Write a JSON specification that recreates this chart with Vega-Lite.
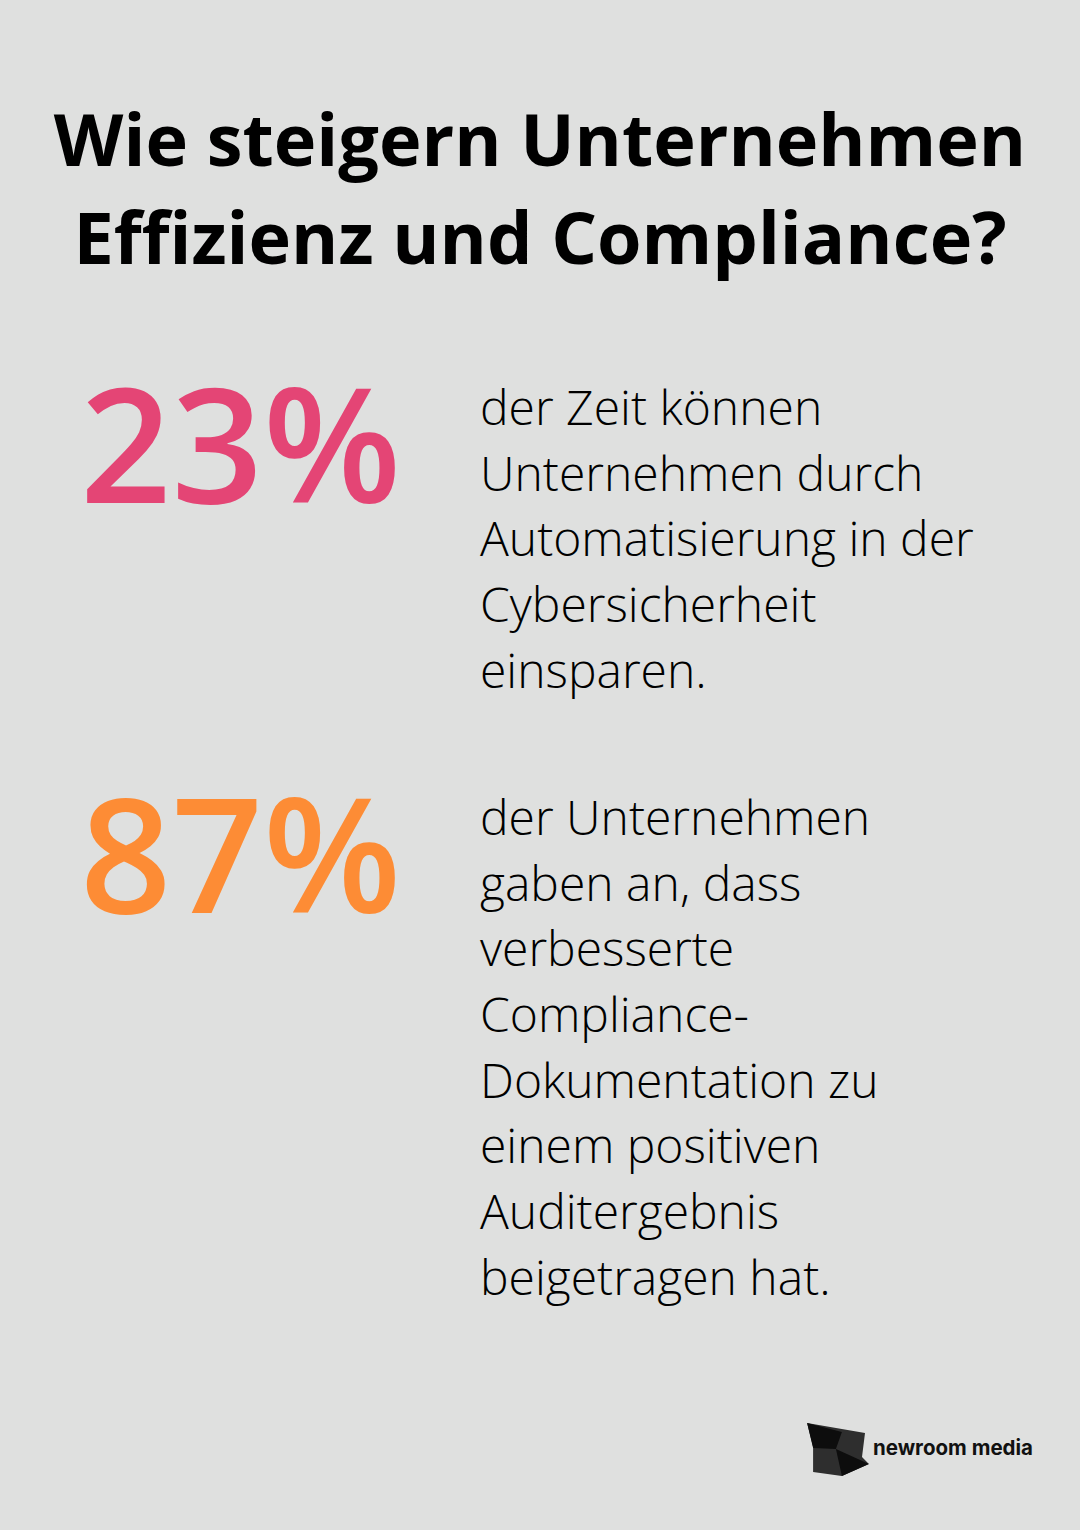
{
  "$schema": "https://vega.github.io/schema/vega-lite/v6.json",
  "width": 1080,
  "height": 1530,
  "autosize": {"type": "none"},
  "padding": 0,
  "background": "#dfe0df",
  "config": {"view": {"stroke": null, "fill": "#dfe0df"}},
  "title": {
    "text": ["Wie steigern Unternehmen", "Effizienz und Compliance?"],
    "font": "Open Sans",
    "fontSize": 72,
    "fontWeight": "bold",
    "color": "#000000",
    "anchor": "middle",
    "frame": "group",
    "baseline": "alphabetic",
    "lineHeight": 97.7,
    "offset": -336
  },
  "data": {
    "values": [
      {"rang": 1, "wert": "23%", "beschreibung": "der Zeit können\nUnternehmen durch\nAutomatisierung in der\nCybersicherheit\neinsparen."},
      {"rang": 2, "wert": "87%", "beschreibung": "der Unternehmen\ngaben an, dass\nverbesserte\nCompliance-\nDokumentation zu\neinem positiven\nAuditergebnis\nbeigetragen hat."}
    ]
  },
  "layer": [
    {
      "mark": {"type": "text", "font": "Open Sans", "fontSize": 160, "fontWeight": 600, "align": "left", "baseline": "alphabetic"},
      "encoding": {
        "x": {"datum": "Zahl", "type": "ordinal", "scale": {"type": "point", "domain": ["Zahl", "Text"], "range": [80, 480], "padding": 0}, "axis": null},
        "y": {"field": "rang", "type": "quantitative", "scale": {"domain": [-0.22683, 3.50488], "reverse": true, "nice": false, "zero": false}, "axis": null},
        "text": {"field": "wert"},
        "color": {"field": "rang", "type": "nominal", "scale": {"domain": [1, 2], "range": ["#e44575", "#fd8c35"]}, "legend": null}
      }
    },
    {
      "mark": {"type": "text", "font": "Open Sans", "fontSize": 48, "fontWeight": 300, "align": "left", "baseline": "alphabetic", "lineBreak": "\n", "lineHeight": 65.7, "dy": -78, "color": "#000000"},
      "encoding": {
        "x": {"datum": "Text", "type": "ordinal"},
        "y": {"field": "rang", "type": "quantitative"},
        "text": {"field": "beschreibung"}
      }
    },
    {
      "data": {"values": [{"marke": "newroom media"}]},
      "mark": {"type": "point", "shape": "M-1.03,-0.9L0.9,-0.57L0.8,0.23L1.03,0.47L0.13,0.87L-0.83,0.73L-0.83,-0.1Z", "filled": true, "size": 3600, "opacity": 1, "strokeWidth": 0, "color": "#2e2e2e"},
      "encoding": {"x": {"value": 838}, "y": {"value": 1450}}
    },
    {
      "data": {"values": [{"marke": "newroom media"}]},
      "mark": {"type": "point", "shape": "M-1.03,-0.9L0.13,-0.6L-0.07,-0.03L-0.83,-0.07Z M-0.07,-0.03L1.03,0.47L0.13,0.87Z", "filled": true, "size": 3600, "opacity": 1, "strokeWidth": 0, "color": "#0d0d0d"},
      "encoding": {"x": {"value": 838}, "y": {"value": 1450}}
    },
    {
      "data": {"values": [{"marke": "newroom media"}]},
      "mark": {"type": "text", "font": "Inter", "fontSize": 20.5, "fontWeight": "bold", "align": "left", "baseline": "alphabetic", "color": "#111111"},
      "encoding": {"x": {"value": 873}, "y": {"value": 1455}, "text": {"field": "marke"}}
    }
  ]
}
